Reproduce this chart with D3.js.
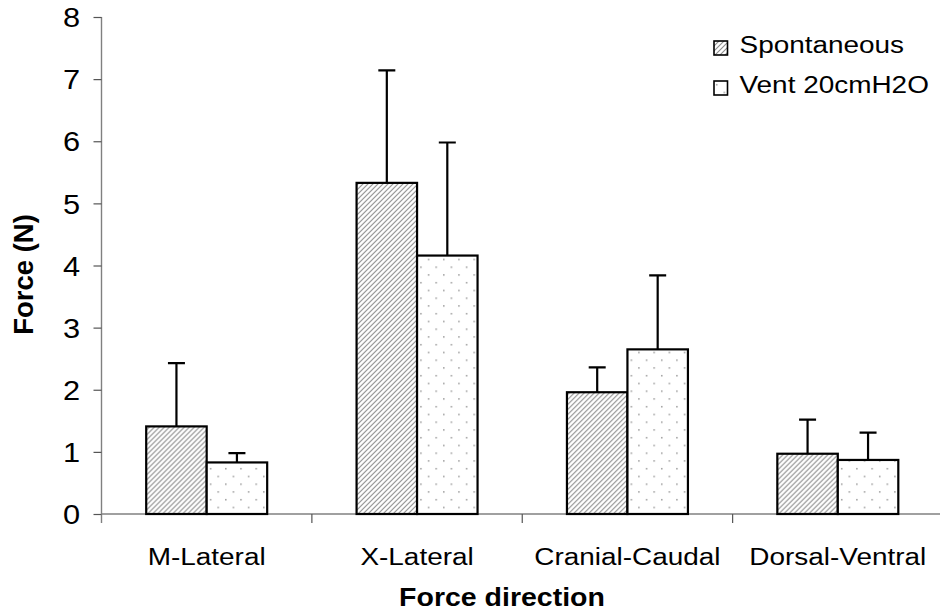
<!DOCTYPE html>
<html>
<head>
<meta charset="utf-8">
<script src="https://cdn.jsdelivr.net/npm/d3@7"></script>
<style>
  html, body { margin: 0; padding: 0; background: #fff; }
  svg text { font-family: "Liberation Sans", Arial, sans-serif; fill: #000; }
</style>
</head>
<body>
<svg id="chart" width="940" height="615"></svg>
<script>
// Force by direction: mean and SD for each breathing condition
const categories = ["M-Lateral", "X-Lateral", "Cranial-Caudal", "Dorsal-Ventral"];
const seriesNames = ["Spontaneous", "Vent 20cmH2O"];
const spontaneousMean = [1.41, 5.33, 1.96, 0.97];
const spontaneousSD   = [1.02, 1.81, 0.40, 0.55];
const ventMean        = [0.83, 4.16, 2.65, 0.87];
const ventSD          = [0.15, 1.82, 1.19, 0.44];
const yTicks = [0, 1, 2, 3, 4, 5, 6, 7, 8];

// text is drawn slightly wide, like the original chart export
const SX = 1.14;

const svg = d3.select("#chart");

// fill patterns: diagonal hatch and dotted
const defs = svg.append("defs");
const hatch = defs.append("pattern")
  .attr("id", "hatch").attr("patternUnits", "userSpaceOnUse")
  .attr("width", 5).attr("height", 5);
hatch.append("rect").attr("width", 5).attr("height", 5).attr("fill", "#fff");
hatch.append("path").attr("d", "M-1,1 L1,-1 M0,5 L5,0 M4,6 L6,4")
  .attr("stroke", "#8c8c8c").attr("stroke-width", 1.1);

const dots = defs.append("pattern")
  .attr("id", "dots").attr("patternUnits", "userSpaceOnUse")
  .attr("width", 15.2).attr("height", 15.5);
dots.append("rect").attr("width", 15.2).attr("height", 15.5).attr("fill", "#fff");
dots.append("rect").attr("x", 2).attr("y", 3).attr("width", 1.4).attr("height", 1.4).attr("fill", "#8a8a8a");
dots.append("rect").attr("x", 9.6).attr("y", 10.75).attr("width", 1.4).attr("height", 1.4).attr("fill", "#8a8a8a");

const fills = ["url(#hatch)", "url(#dots)"];

const y = d3.scaleLinear().domain([0, 8]).range([514, 17]);
const x = d3.scaleBand().domain(categories).range([101.5, 943]).paddingInner(0).paddingOuter(0);
const x1 = d3.scaleBand().domain(seriesNames).range([0, x.bandwidth()]).paddingInner(0).paddingOuter(0.739);

const data = categories.map((c, i) => ({
  cat: c,
  values: [
    { name: seriesNames[0], mean: spontaneousMean[i], sd: spontaneousSD[i] },
    { name: seriesNames[1], mean: ventMean[i], sd: ventSD[i] }
  ]
}));

// y axis
const yAxis = svg.append("g")
  .attr("transform", "translate(101.5,0)")
  .call(d3.axisLeft(y).tickValues(yTicks).tickSize(8).tickPadding(13).tickFormat(d3.format("d")));
yAxis.select(".domain").attr("stroke", "#808080").attr("stroke-width", 1.4)
  .attr("d", `M0,${y(8)}V${y(0) + 9}`);
yAxis.selectAll(".tick line").attr("stroke", "#555").attr("stroke-width", 1.2);
yAxis.selectAll(".tick text").attr("font-size", 27).attr("dy", "0.36em")
  .attr("x", -21.5 / SX).attr("transform", `scale(${SX},1)`)
  .style("font-family", "'Liberation Sans', Arial, sans-serif");

// x axis baseline and boundary ticks
const edges = categories.map(c => x(c)).concat([x(categories[categories.length - 1]) + x.bandwidth()]);
svg.append("line").attr("x1", 101.5).attr("x2", 940).attr("y1", y(0)).attr("y2", y(0))
  .attr("stroke", "#808080").attr("stroke-width", 1.4);
svg.append("g").selectAll("line").data(edges.slice(1)).join("line")
  .attr("x1", d => d).attr("x2", d => d).attr("y1", y(0)).attr("y2", y(0) + 9)
  .attr("stroke", "#555").attr("stroke-width", 1.2);

// category labels
svg.append("g").selectAll("text").data(categories).join("text")
  .attr("transform", d => `translate(${x(d) + x.bandwidth() / 2},565) scale(${SX},1)`)
  .attr("text-anchor", "middle").attr("font-size", 24.5).text(d => d);

// bars
const groups = svg.append("g").selectAll("g").data(data).join("g")
  .attr("transform", d => `translate(${x(d.cat)},0)`);
groups.selectAll("rect").data(d => d.values).join("rect")
  .attr("x", d => x1(d.name)).attr("width", x1.bandwidth())
  .attr("y", d => y(d.mean)).attr("height", d => y(0) - y(d.mean))
  .attr("fill", (d, i) => fills[i]).attr("stroke", "#000").attr("stroke-width", 2.2);

// error bars (upper SD only)
groups.selectAll("path.err").data(d => d.values).join("path")
  .attr("class", "err")
  .attr("d", d => {
    const cx = x1(d.name) + x1.bandwidth() / 2;
    const top = y(d.mean + d.sd);
    return `M${cx},${y(d.mean)}V${top}M${cx - 8.5},${top}H${cx + 8.5}`;
  })
  .attr("fill", "none").attr("stroke", "#000").attr("stroke-width", 2.2);

// axis titles
svg.append("text").attr("transform", `translate(502,606) scale(${SX},1)`).attr("text-anchor", "middle")
  .attr("font-size", 25).attr("font-weight", "bold").text("Force direction");
svg.append("text").attr("transform", "translate(33,274.5) rotate(-90)")
  .attr("text-anchor", "middle").attr("font-size", 27.5).attr("font-weight", "bold").text("Force (N)");

// legend
const legend = svg.append("g").selectAll("g").data(seriesNames).join("g")
  .attr("transform", (d, i) => `translate(714,${41 + i * 40})`);
legend.append("rect").attr("width", 13.5).attr("height", 14)
  .attr("fill", (d, i) => fills[i]).attr("stroke", "#000").attr("stroke-width", 1.6);
legend.append("text").attr("transform", `translate(25.5,11.5) scale(${SX},1)`)
  .attr("font-size", 24.5).text(d => d);
</script>
</body>
</html>
